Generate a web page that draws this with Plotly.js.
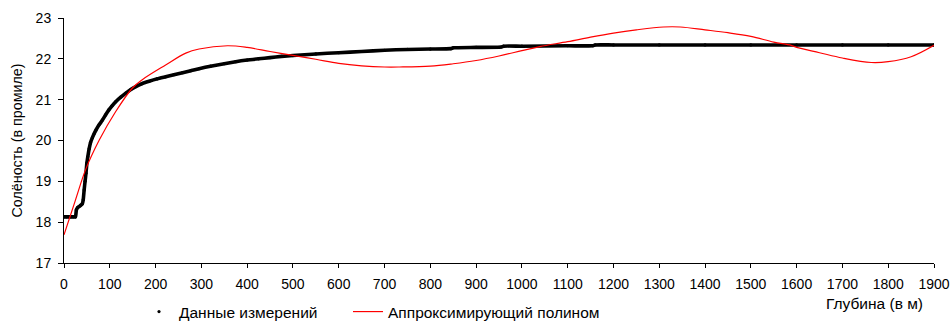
<!DOCTYPE html>
<html>
<head>
<meta charset="utf-8">
<script src="https://cdn.plot.ly/plotly-3.0.1.min.js"></script>
<style>
html,body{margin:0;padding:0;background:#fff;}
#chart{width:952px;height:321px;}
</style>
</head>
<body>
<div id="chart"></div>
<script>
// Measured data (depth in m, salinity in promille)
var measDepth = [0,5,10,15,20,25,27,30,35,40,42,44,46,48,50,52,55,58,62,66,70,77,84,91,98,105,113,124,135,146,157,170,186,204,222,240,259,277,295,320,350,375,400,425,450,475,500,550,600,650,700,750,800,845,850,900,955,960,1000,1100,1155,1160,1200,1300,1400,1500,1600,1700,1800,1900];
var measSal   = [18.13,18.13,18.13,18.13,18.13,18.13,18.3,18.36,18.4,18.45,18.55,18.79,19.0,19.2,19.45,19.6,19.8,19.95,20.07,20.17,20.26,20.39,20.5,20.63,20.75,20.85,20.95,21.06,21.16,21.25,21.32,21.39,21.45,21.51,21.56,21.61,21.66,21.71,21.76,21.82,21.88,21.93,21.97,22.0,22.03,22.06,22.08,22.12,22.15,22.18,22.21,22.23,22.24,22.25,22.27,22.28,22.29,22.31,22.31,22.32,22.32,22.34,22.34,22.34,22.34,22.34,22.34,22.34,22.34,22.34];

// Approximating polynomial
var polyDepth = [0,25,47,77,113,149,171,222,266,295,357,400,450,503,550,600,650,700,733,800,850,900,950,1000,1039,1100,1150,1200,1250,1309,1346,1400,1450,1500,1550,1588,1600,1650,1700,1763,1800,1850,1900];
var polySal   = [17.69,18.54,19.28,20.01,20.71,21.28,21.49,21.85,22.14,22.24,22.32,22.28,22.18,22.08,21.99,21.89,21.83,21.80,21.80,21.82,21.88,21.96,22.07,22.20,22.30,22.42,22.53,22.63,22.71,22.78,22.78,22.71,22.64,22.55,22.41,22.33,22.28,22.15,22.02,21.91,21.93,22.05,22.33];

var xTicks = [0,100,200,300,400,500,600,700,800,900,1000,1100,1200,1300,1400,1500,1600,1700,1800,1900];
var yTicks = [17,18,19,20,21,22,23];

var FONT = 'Liberation Sans, Arial, sans-serif';
var FS_TICK = 14;
var FS_TEXT = 15.5;

var traces = [
  {x: measDepth, y: measSal, mode: 'lines', line: {color: '#000', width: 3.6, shape: 'spline', smoothing: 0.5}, showlegend: false, hoverinfo: 'skip'},
  {x: measDepth, y: measSal, mode: 'markers', marker: {color: '#000', size: 3.2}, name: 'Данные измерений', legend: 'legend'},
  {x: polyDepth, y: polySal, mode: 'lines', line: {color: '#ff0000', width: 1.2, shape: 'spline', smoothing: 1}, name: 'Аппроксимирующий полином', legend: 'legend2'}
];

var legendBase = {
  orientation: 'h', xref: 'container', yref: 'container', xanchor: 'left', yanchor: 'middle',
  y: 1 - 312/321, font: {family: FONT, size: FS_TEXT, color: '#000'}, bgcolor: 'rgba(0,0,0,0)', borderwidth: 0
};

var layout = {
  width: 952, height: 321,
  margin: {l: 64, r: 18, t: 18, b: 58},
  paper_bgcolor: '#fff', plot_bgcolor: '#fff',
  font: {family: FONT, size: FS_TICK, color: '#000'},
  xaxis: {
    range: [0, 1900], tickvals: xTicks, ticktext: xTicks.map(String),
    showgrid: false, zeroline: false, showline: true, linecolor: '#000', linewidth: 1,
    ticks: 'outside', ticklen: 4, tickcolor: '#000', ticklabelstandoff: 4,
    tickfont: {family: FONT, size: FS_TICK, color: '#000'}
  },
  yaxis: {
    range: [17, 23], tickvals: yTicks, ticktext: yTicks.map(String),
    showgrid: false, zeroline: false, showline: true, linecolor: '#000', linewidth: 1,
    ticks: 'outside', ticklen: 5, tickcolor: '#000', ticklabelstandoff: 4,
    tickfont: {family: FONT, size: FS_TICK, color: '#000'},
    title: {text: 'Солёность (в промиле)', font: {family: FONT, size: 14.3, color: '#000'}, standoff: 9}
  },
  legend: Object.assign({}, legendBase, {x: 139/952}),
  legend2: Object.assign({}, legendBase, {x: 348/952}),
  annotations: [{
    text: 'Глубина (в м)', xref: 'paper', yref: 'paper', x: 1.0, xanchor: 'right', xshift: -9, y: -0.165, yanchor: 'middle',
    showarrow: false, font: {family: FONT, size: FS_TEXT, color: '#000'}
  }]
};

Plotly.newPlot('chart', traces, layout, {displayModeBar: false, staticPlot: true});
</script>
</body>
</html>
